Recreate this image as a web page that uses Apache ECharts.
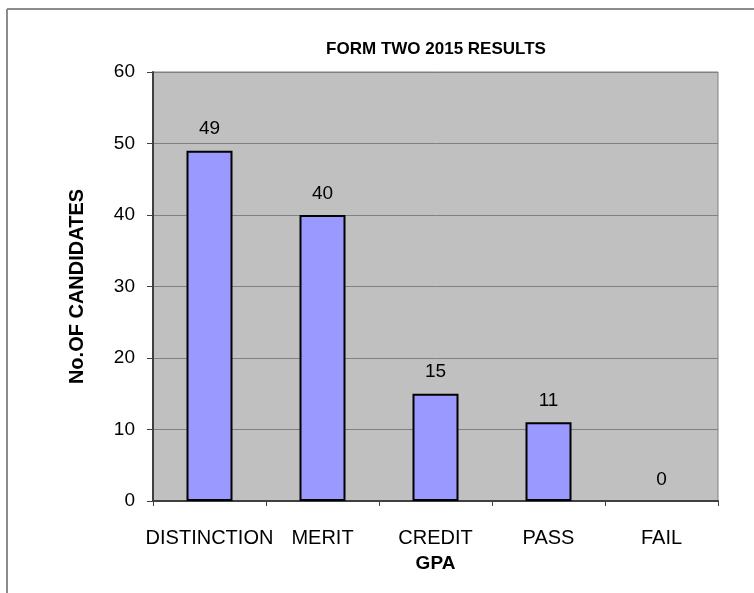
<!DOCTYPE html>
<html>
<head>
<meta charset="utf-8">
<title>FORM TWO 2015 RESULTS</title>
<script src="https://cdn.jsdelivr.net/npm/echarts@6/dist/echarts.min.js"></script>
<style>
  html, body { margin: 0; padding: 0; background: #fff; }
  #chart { width: 754px; height: 593px; }
</style>
</head>
<body>
<div id="chart"></div>
<script>
// data
var grades = ['DISTINCTION', 'MERIT', 'CREDIT', 'PASS', 'FAIL'];
var candidates = [49, 40, 15, 11, 0];

var chart = echarts.init(document.getElementById('chart'));

// a zero bar shows no outline in the original
var barData = candidates.map(function (v) {
  return v === 0 ? { value: v, itemStyle: { borderWidth: 0 } } : v;
});

var option = {
  animation: false,
  textStyle: { fontFamily: 'Liberation Sans, Arial, sans-serif' },
  title: {
    text: 'FORM TWO 2015 RESULTS',
    left: 431,
    top: 36,
    textAlign: 'center',
    textStyle: { fontSize: 17, fontWeight: 'bold', color: '#000', fontFamily: 'Liberation Sans, Arial, sans-serif' }
  },
  // outer frame: only left and top edges are visible
  graphic: [
    { type: 'line', shape: { x1: 7, y1: 9, x2: 7, y2: 593 }, style: { stroke: '#8c8c8c', lineWidth: 2 } },
    { type: 'line', shape: { x1: 7, y1: 9, x2: 754, y2: 9 }, style: { stroke: '#8c8c8c', lineWidth: 2 } }
  ],
  grid: {
    left: 153,
    right: 36,
    top: 72,
    bottom: 92,
    show: true,
    backgroundColor: '#c0c0c0',
    borderColor: '#808080',
    borderWidth: 1
  },
  xAxis: {
    type: 'category',
    data: grades,
    name: 'GPA',
    nameLocation: 'middle',
    nameGap: 53,
    nameTextStyle: { fontSize: 19, fontWeight: 'bold', color: '#000' },
    axisLine: { lineStyle: { color: '#404040', width: 2 } },
    axisTick: { show: true, alignWithLabel: false, length: 5, lineStyle: { color: '#404040' } },
    axisLabel: { fontSize: 20, color: '#000', margin: 27, interval: 0 }
  },
  yAxis: {
    type: 'value',
    min: 0,
    max: 60,
    interval: 10,
    name: 'No.OF CANDIDATES',
    nameLocation: 'middle',
    nameGap: 66,
    nameTextStyle: { fontSize: 20, fontWeight: 'bold', color: '#000' },
    axisLine: { show: true, lineStyle: { color: '#404040', width: 2 } },
    axisTick: { show: true, length: 6, lineStyle: { color: '#404040' } },
    axisLabel: { fontSize: 19, color: '#000', margin: 18 },
    splitLine: { lineStyle: { color: '#808080', width: 1 } }
  },
  series: [{
    type: 'bar',
    data: barData,
    barWidth: 46,
    itemStyle: { color: '#9999ff', borderColor: '#000', borderWidth: 2 },
    label: { show: true, position: 'top', distance: 12, fontSize: 19, color: '#000' }
  }]
};

chart.setOption(option);
</script>
</body>
</html>
